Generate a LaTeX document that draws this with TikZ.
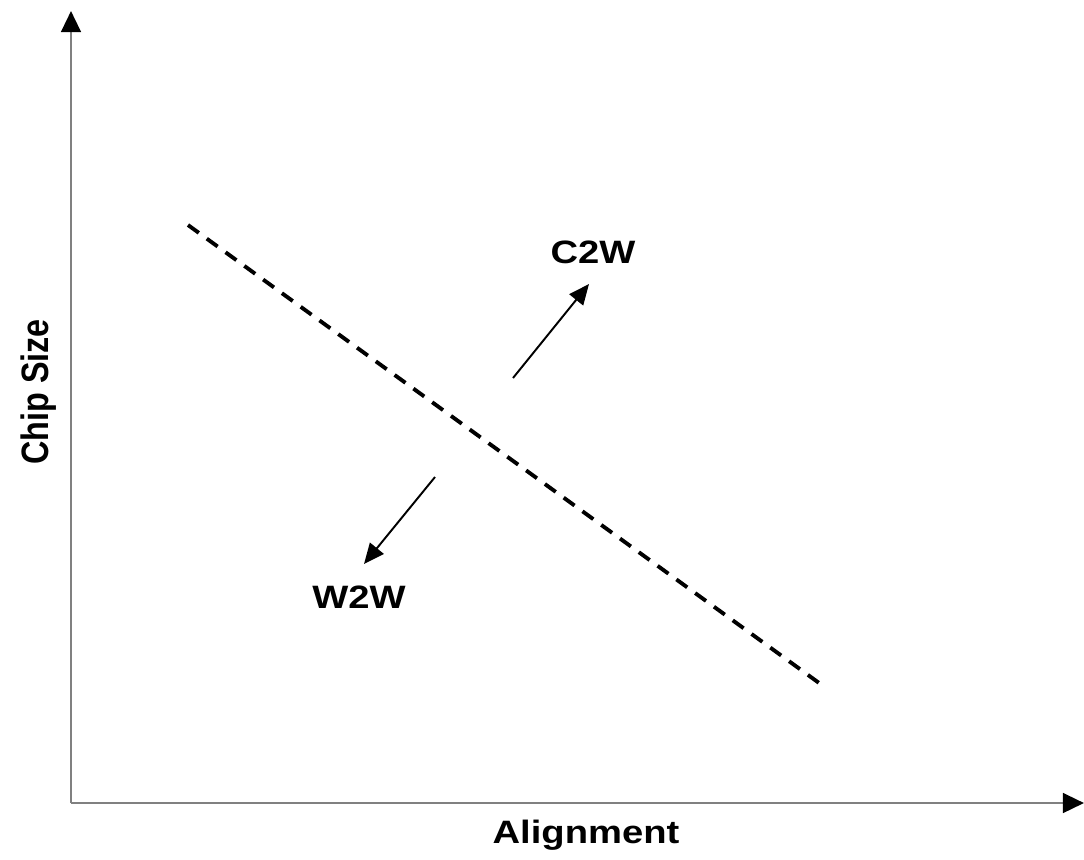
\documentclass[tikz,border=0pt]{standalone}
\usepackage{fontspec}
\setmainfont{Liberation Sans}
\usetikzlibrary{arrows.meta}

% the labels of the picture are set a little wide
\newcommand{\widelabel}[1]{\scalebox{1.18}[1]{#1}}

\begin{document}
\begin{tikzpicture}[x=0.01cm, y=-0.01cm,
  axis/.style={draw=black!50, line width=0.75pt,
    -{Triangle[length=6pt, width=5.6pt, color=black]}},
  trend/.style={black, line width=1.1pt, dash pattern=on 3.8pt off 2.8pt},
  moveto/.style={black, line width=0.55pt,
    -{Triangle[length=5.8pt, width=5pt]}},
  lbl/.style={font=\fontsize{9.2}{11}\selectfont\bfseries, inner sep=0pt, anchor=base}]

  \useasboundingbox (0,0) rectangle (1084,859);

  % Axes
  \coordinate (O) at (71,803);
  \coordinate (ytop) at (71,11);
  \coordinate (xend) at (1084,803);
  \draw[axis] (O) -- (ytop);
  \draw[axis] (O) -- (xend);

  % Axis labels
  \node[lbl] (xlabel) at (586,843) {\widelabel{Alignment}};
  \node[lbl, rotate=90] (ylabel) at (48,392) {\scalebox{1}[1.18]{Chip Size}};

  % Dashed boundary
  \coordinate (dstart) at (188,225);
  \coordinate (dend) at (826,688);
  \draw[trend] (dstart) -- (dend);

  % Shift towards C2W
  \coordinate (c2wfrom) at (513,378);
  \coordinate (c2wto) at (589,284);
  \draw[moveto] (c2wfrom) -- (c2wto);
  \node[lbl] (c2w) at (593,263) {\widelabel{C2W}};

  % Shift towards W2W
  \coordinate (w2wfrom) at (435,477);
  \coordinate (w2wto) at (364,564);
  \draw[moveto] (w2wfrom) -- (w2wto);
  \node[lbl] (w2w) at (359,608) {\widelabel{W2W}};

\end{tikzpicture}
\end{document}
